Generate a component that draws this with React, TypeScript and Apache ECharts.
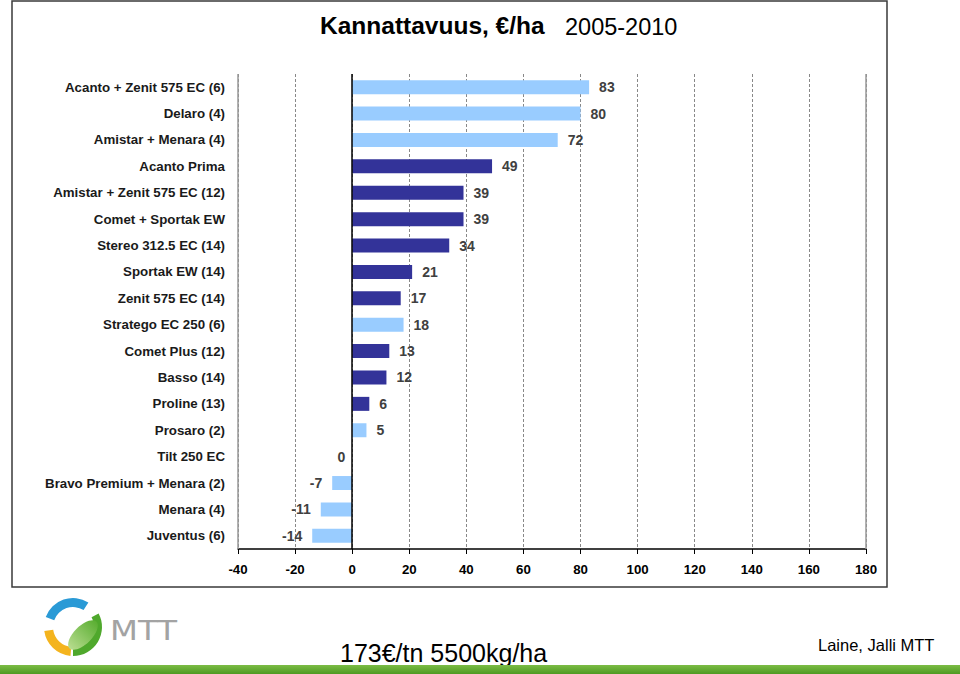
import React, { useEffect, useRef } from "react";
import * as echarts from "echarts";

const categories = [
  "Acanto + Zenit 575 EC (6)",
  "Delaro (4)",
  "Amistar + Menara (4)",
  "Acanto Prima",
  "Amistar + Zenit 575 EC (12)",
  "Comet + Sportak EW",
  "Stereo 312.5 EC (14)",
  "Sportak EW (14)",
  "Zenit 575 EC (14)",
  "Stratego EC 250 (6)",
  "Comet Plus (12)",
  "Basso (14)",
  "Proline (13)",
  "Prosaro (2)",
  "Tilt 250 EC",
  "Bravo Premium + Menara (2)",
  "Menara (4)",
  "Juventus (6)",
];
const values = [83, 80, 72, 49, 39, 39, 34, 21, 17, 18, 13, 12, 6, 5, 0, -7, -11, -14];
const groups = ["L", "L", "L", "D", "D", "D", "D", "D", "D", "L", "D", "D", "D", "L", "L", "L", "L", "L"];
const xTicks = [-40, -20, 0, 20, 40, 60, 80, 100, 120, 140, 160, 180];

const titleMain = "Kannattavuus, €/ha";
const titleYears = "2005-2010";
const footerCenter = "173€/tn 5500kg/ha";
const footerRight = "Laine, Jalli MTT";

const LIGHT = "#99CCFF";
const DARK = "#333399";
const FONT = "'Liberation Sans', Arial, sans-serif";

export default function App() {
  const ref = useRef<HTMLDivElement>(null);
  useEffect(() => {
    if (!ref.current) return;
    const chart = echarts.init(ref.current, undefined, { renderer: "svg" });
    const data = values.map((v, i) => ({
      value: v,
      itemStyle: { color: groups[i] === "L" ? LIGHT : DARK },
      label: { position: v > 0 ? "right" : "left", distance: v === 0 ? 7 : 10 },
    }));
    chart.setOption({
      animation: false,
      backgroundColor: "#ffffff",
      textStyle: { fontFamily: FONT },
      grid: { left: 238, right: 94, top: 74, bottom: 125, containLabel: false },
      xAxis: {
        type: "value",
        min: xTicks[0],
        max: xTicks[xTicks.length - 1],
        interval: 20,
        axisLine: { show: true, onZero: false, lineStyle: { color: "#000", width: 1.5 } },
        axisTick: { show: true, length: 5, lineStyle: { color: "#000" } },
        axisLabel: {
          margin: 14,
          fontFamily: FONT,
          fontSize: 13.3,
          fontWeight: "bold",
          color: "#000",
        },
        splitLine: { show: true, lineStyle: { color: "#888", type: [3, 2], width: 1 } },
      },
      yAxis: {
        type: "category",
        data: categories,
        inverse: true,
        axisLine: { show: false, onZero: false },
        axisTick: { show: false },
        axisLabel: {
          margin: 13,
          fontFamily: FONT,
          fontSize: 13.3,
          fontWeight: "bold",
          color: "#1a1a1a",
        },
      },
      series: [
        {
          type: "bar",
          data,
          barWidth: 14,
          label: {
            show: true,
            fontFamily: FONT,
            fontSize: 14,
            fontWeight: "bold",
            color: "#404040",
          },
          markLine: {
            silent: true,
            symbol: "none",
            label: { show: false },
            data: [
              { xAxis: 0, lineStyle: { color: "#000", type: "solid", width: 1.5 } },
              { xAxis: xTicks[0], lineStyle: { color: "#999", type: "solid", width: 1.5 } },
              { xAxis: xTicks[xTicks.length - 1], lineStyle: { color: "#999", type: "solid", width: 1.5 } },
            ],
          },
        },
      ],
      graphic: [
        {
          type: "rect",
          shape: { x: 12, y: 1, width: 875, height: 586 },
          style: { fill: "none", stroke: "#3a3a3a", lineWidth: 1.5 },
          z: -1,
        },
        {
          type: "text",
          x: 320,
          y: 25,
          style: {
            text: titleMain,
            fontFamily: FONT,
            fontSize: 24.5,
            fontWeight: "bold",
            fill: "#000",
            verticalAlign: "middle",
          },
        },
        {
          type: "text",
          x: 565,
          y: 27,
          style: {
            text: titleYears,
            fontFamily: FONT,
            fontSize: 23.5,
            fill: "#000",
            verticalAlign: "middle",
          },
        },
        {
          type: "text",
          x: 340,
          y: 653,
          style: {
            text: footerCenter,
            fontFamily: FONT,
            fontSize: 25,
            fill: "#000",
            verticalAlign: "middle",
          },
        },
        {
          type: "text",
          x: 818,
          y: 645,
          style: {
            text: footerRight,
            fontFamily: FONT,
            fontSize: 16.5,
            fill: "#000",
            verticalAlign: "middle",
          },
        },
        {
          type: "rect",
          shape: { x: 0, y: 665, width: 960, height: 9 },
          style: {
            fill: new echarts.graphic.LinearGradient(0, 0, 0, 1, [
              { offset: 0, color: "#7cbc45" },
              { offset: 1, color: "#4e9a22" },
            ]),
          },
        },
        // MTT logo
        {
          type: "sector",
          shape: { cx: 73, cy: 627, r: 29, r0: 20, startAngle: (-160 * Math.PI) / 180, endAngle: (-58 * Math.PI) / 180, clockwise: true },
          style: { fill: "#2a9ad6" },
        },
        {
          type: "sector",
          shape: { cx: 73, cy: 627, r: 29, r0: 20, startAngle: (95 * Math.PI) / 180, endAngle: (172 * Math.PI) / 180, clockwise: true },
          style: { fill: "#f4b41e" },
        },
        {
          type: "sector",
          shape: { cx: 73, cy: 627, r: 29, r0: 21, startAngle: (-28 * Math.PI) / 180, endAngle: (90 * Math.PI) / 180, clockwise: true },
          style: { fill: "#4fa82c" },
        },
        {
          type: "ellipse",
          x: 83,
          y: 635,
          rotation: Math.PI / 4,
          shape: { cx: 0, cy: 0, rx: 19, ry: 9 },
          style: {
            fill: new echarts.graphic.LinearGradient(0, 0, 1, 0, [
              { offset: 0, color: "#b7dc8e" },
              { offset: 1, color: "#5aae32" },
            ]),
          },
        },
        {
          type: "text",
          x: 110,
          y: 630,
          scaleX: 1.2,
          style: {
            text: "MTT",
            fontFamily: "'DejaVu Sans', sans-serif",
            fontSize: 27,
            fill: "#a3a3a3",
            verticalAlign: "middle",
          },
        },
      ],
    });
    return () => chart.dispose();
  }, []);
  return <div ref={ref} style={{ width: 960, height: 674, position: "absolute", left: 0, top: 0 }} />;
}
